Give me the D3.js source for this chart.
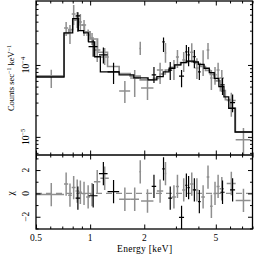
<!DOCTYPE html>
<html><head><meta charset="utf-8">
<script src="https://cdn.jsdelivr.net/npm/d3@7"></script>
<style>body{margin:0;background:#fff}svg{display:block}text{font-family:"Liberation Serif","Times New Roman",serif;fill:#000}</style>
</head><body><svg id="c" width="261" height="265"></svg>
<script>
// ---- data (energy bins in keV, flux in counts s^-1 keV^-1, chi residual) ----
const grayLo  = [0.50,0.716,0.755,0.79,0.83,0.865,0.90,0.95,1.00,1.05,1.14,1.45,1.67,1.88,1.92,2.35,2.60,2.85,3.00,3.25,3.60,3.85,4.15,4.45,4.65,4.85,5.05,5.25,5.75,6.45];
const grayHi  = [0.716,0.755,0.79,0.83,0.865,0.90,0.95,1.00,1.05,1.14,1.27,1.67,1.87,1.92,2.25,2.55,2.65,3.00,3.12,3.38,3.75,4.00,4.35,4.60,4.80,5.05,5.25,5.55,6.45,7.80];
const grayF   = [7.0e-5,3.26e-4,2.97e-4,5.1e-4,4.65e-4,3.96e-4,3.6e-4,2.6e-4,2.37e-4,1.62e-4,1.29e-4,4.35e-5,6.6e-5,1.7e-4,4.8e-5,8.5e-5,1.47e-4,9.1e-5,1.29e-4,1.17e-4,1.5e-4,9.1e-5,1.0e-4,1.62e-4,6.6e-5,7.3e-5,8.5e-5,6.6e-5,3.2e-5,9.1e-6];
const grayFlo = [4.8e-5,2.53e-4,1.96e-4,3.6e-4,3.26e-4,3.06e-4,2.53e-4,2.1e-4,1.9e-4,1.1e-4,1.0e-4,2.96e-5,3.6e-5,1.38e-4,3.27e-5,5.45e-5,1.07e-4,6.2e-5,9.1e-5,8.0e-5,1.07e-4,6.4e-5,7.0e-5,1.2e-4,4.5e-5,5.3e-5,6.2e-5,4.2e-5,1.9e-5,5.0e-6];
const grayFhi = [8.6e-5,3.96e-4,3.6e-4,6.8e-4,5.45e-4,5.1e-4,4.22e-4,3.1e-4,2.78e-4,2.22e-4,1.72e-4,6.0e-5,8.5e-5,2.1e-4,6.6e-5,1.07e-4,2.02e-4,1.17e-4,1.62e-4,1.52e-4,2.0e-4,1.24e-4,1.6e-4,2.02e-4,8.5e-5,9.4e-5,1.07e-4,8.5e-5,4.1e-5,1.33e-5];
const grayChi = [-0.1,0.8,-0.15,0.5,0.2,0.1,0.0,-0.3,-0.1,1.0,1.3,-0.5,-0.5,1.85,-0.65,0.2,1.7,-0.3,0.6,0.3,0.8,0.3,-0.3,1.4,-1.1,0.0,0.6,0.4,0.85,-0.6];

const blackLo  = [0.83,0.98,1.12,1.25,2.20,2.52,2.72,3.12,3.38,3.48,3.72,3.98,5.30,6.00];
const blackHi  = [0.88,1.10,1.25,1.45,2.33,2.60,2.86,3.33,3.48,3.58,3.88,4.12,5.60,6.40];
const blackF   = [4.8e-4,1.8e-4,1.38e-4,8.0e-5,7.3e-5,2.1e-4,8.5e-5,7.0e-5,1.52e-4,1.38e-4,1.3e-4,8.0e-5,5.3e-5,3.0e-5];
const blackFlo = [2.9e-4,1.3e-4,1.05e-4,5.45e-5,5.6e-5,1.52e-4,6.2e-5,4.9e-5,1.07e-4,9.6e-5,9.0e-5,6.2e-5,3.83e-5,2.2e-5];
const blackFhi = [5.4e-4,2.25e-4,1.75e-4,1.07e-4,9.4e-5,2.4e-4,1.1e-4,8.5e-5,1.9e-4,1.78e-4,1.62e-4,1.0e-4,6.6e-5,3.9e-5];
const blackChi = [-0.4,-0.2,1.7,0.15,0.6,2.1,-0.4,-2.05,0.7,0.5,0.3,-0.7,0.1,0.3];

// model step functions
const grayModelEdges = [0.5,0.716,0.76,0.80,0.84,0.88,0.93,1.0,1.10,1.25,1.45,1.67,1.90,2.25,2.45,2.62,2.79,2.98,3.18,3.38,3.6,3.85,4.1,4.38,4.66,4.97,5.3,5.65,6.03,6.43,8.0];
const grayModel      = [7.0e-5,2.75e-4,3.1e-4,4.2e-4,4.4e-4,3.6e-4,2.9e-4,2.3e-4,1.5e-4,9.5e-5,7.6e-5,7.0e-5,6.2e-5,6.5e-5,7.5e-5,8.5e-5,9.3e-5,1.0e-4,1.08e-4,1.12e-4,1.12e-4,1.05e-4,9.5e-5,8.4e-5,7.4e-5,6.0e-5,4.4e-5,3.3e-5,2.5e-5,1.17e-5];
const blackModelEdges = [0.5,0.716,0.80,0.86,0.92,0.98,1.06,1.14,1.45,1.75,2.1,2.35,2.55,2.75,2.95,3.2,3.45,3.75,4.0,4.3,4.6,4.9,5.2,5.55,5.9,6.4,8.0];
const blackModel      = [6.8e-5,2.8e-4,4.4e-4,3.0e-4,2.8e-4,2.1e-4,1.3e-4,8.0e-5,7.3e-5,6.6e-5,6.2e-5,6.9e-5,8.0e-5,9.0e-5,1.0e-4,1.08e-4,1.13e-4,1.1e-4,1.02e-4,9.0e-5,7.8e-5,6.5e-5,5.0e-5,3.6e-5,2.5e-5,1.17e-5];

// ticks
const xMajor = [0.5,1,2,5];
const xMajorLabels = ["0.5","1","2","5"];
const xMinor = [0.6,0.7,0.8,0.9,3,4,6,7,8];
const yMajor = [1e-5,1e-4];
const yMinor = [6e-6,7e-6,8e-6,9e-6,2e-5,3e-5,4e-5,5e-5,6e-5,7e-5,8e-5,9e-5,2e-4,3e-4,4e-4,5e-4,6e-4,7e-4];
const chiMajor = [-2,0,2];
const chiMinor = [-3,-1,1,3];

// ---- layout ----
const L=36, R=252.5, T=1, M=155, B=229;
const GRAY="#8f8f8f";
const svg = d3.select("#c");
const x = d3.scaleLog().domain([0.5,8]).range([L,R]);
const y = d3.scaleLog().domain([5.6e-6,7.75e-4]).range([M,T]);
const yc = d3.scaleLinear().domain([-3.05,3.29]).range([B,M]);

svg.append("clipPath").attr("id","cpTop").append("rect").attr("x",L).attr("y",T).attr("width",R-L).attr("height",M-T);
svg.append("clipPath").attr("id","cpBot").append("rect").attr("x",L).attr("y",M).attr("width",R-L).attr("height",B-M);

const gTop = svg.append("g").attr("clip-path","url(#cpTop)");
const gBot = svg.append("g").attr("clip-path","url(#cpBot)");

// zero line
gBot.append("line").attr("x1",L).attr("x2",R).attr("y1",yc(0)).attr("y2",yc(0))
  .attr("stroke",GRAY).attr("stroke-width",1.4).attr("stroke-dasharray","6,4");

function stepPath(edges, vals){
  const pts = vals.map((v,i)=>[edges[i],v]);
  pts.push([edges[edges.length-1], vals[vals.length-1]]);
  return d3.line().x(d=>x(d[0])).y(d=>y(d[1])).curve(d3.curveStepAfter)(pts);
}

function drawSet(lo,hi,F,Flo,Fhi,chi,color,sw){
  for(let i=0;i<lo.length;i++){
    const xc = x((lo[i]+hi[i])/2);
    gTop.append("line").attr("x1",x(lo[i])).attr("x2",x(hi[i])).attr("y1",y(F[i])).attr("y2",y(F[i])).attr("stroke",color).attr("stroke-width",sw);
    gTop.append("line").attr("x1",xc).attr("x2",xc).attr("y1",y(Flo[i])).attr("y2",y(Fhi[i])).attr("stroke",color).attr("stroke-width",sw);
    gBot.append("line").attr("x1",x(lo[i])).attr("x2",x(hi[i])).attr("y1",yc(chi[i])).attr("y2",yc(chi[i])).attr("stroke",color).attr("stroke-width",sw);
    gBot.append("line").attr("x1",xc).attr("x2",xc).attr("y1",yc(chi[i]-1)).attr("y2",yc(chi[i]+1)).attr("stroke",color).attr("stroke-width",sw);
  }
}

drawSet(grayLo,grayHi,grayF,grayFlo,grayFhi,grayChi,GRAY,1.5);
gTop.append("path").attr("d",stepPath(grayModelEdges,grayModel)).attr("fill","none").attr("stroke",GRAY).attr("stroke-width",1.6);
drawSet(blackLo,blackHi,blackF,blackFlo,blackFhi,blackChi,"#000",1.2);
gTop.append("path").attr("d",stepPath(blackModelEdges,blackModel)).attr("fill","none").attr("stroke","#000").attr("stroke-width",1.3);

// ---- axes (inward ticks) ----
function ax(gen, tx, ty){
  const g = svg.append("g").attr("transform",`translate(${tx},${ty})`).call(gen);
  g.select(".domain").remove();
  g.selectAll("line").attr("stroke","#000").attr("stroke-width",1);
  g.selectAll("text").remove();
  return g;
}
const MJ=4.5, MN=2.5;
ax(d3.axisBottom(x).tickValues(xMajor).tickSize(MJ),0,T);
ax(d3.axisBottom(x).tickValues(xMinor).tickSize(MN),0,T);
ax(d3.axisTop(x).tickValues(xMajor).tickSize(MJ),0,M);
ax(d3.axisTop(x).tickValues(xMinor).tickSize(MN),0,M);
ax(d3.axisBottom(x).tickValues(xMajor).tickSize(MJ),0,M);
ax(d3.axisBottom(x).tickValues(xMinor).tickSize(MN),0,M);
ax(d3.axisTop(x).tickValues(xMajor).tickSize(MJ),0,B);
ax(d3.axisTop(x).tickValues(xMinor).tickSize(MN),0,B);
ax(d3.axisRight(y).tickValues(yMajor).tickSize(MJ),L,0);
ax(d3.axisRight(y).tickValues(yMinor).tickSize(MN),L,0);
ax(d3.axisLeft(y).tickValues(yMajor).tickSize(MJ),R,0);
ax(d3.axisLeft(y).tickValues(yMinor).tickSize(MN),R,0);
ax(d3.axisRight(yc).tickValues(chiMajor).tickSize(MJ),L,0);
ax(d3.axisRight(yc).tickValues(chiMinor).tickSize(MN),L,0);
ax(d3.axisLeft(yc).tickValues(chiMajor).tickSize(MJ),R,0);
ax(d3.axisLeft(yc).tickValues(chiMinor).tickSize(MN),R,0);

// frames
svg.append("rect").attr("x",L).attr("y",T).attr("width",R-L).attr("height",B-T).attr("fill","none").attr("stroke","#000").attr("stroke-width",1.3);
svg.append("line").attr("x1",L).attr("x2",R).attr("y1",M).attr("y2",M).attr("stroke","#000").attr("stroke-width",1.3);

// ---- labels ----
const FS=9.5;
xMajor.forEach((v,i)=>{
  svg.append("text").attr("x",x(v)).attr("y",240.5).attr("text-anchor","middle").attr("font-size",FS).text(xMajorLabels[i]);
});
svg.append("text").attr("x",(L+R)/2+0.5).attr("y",251.5).attr("text-anchor","middle").attr("font-size",FS).attr("letter-spacing",0.3).text("Energy [keV]");

function supLabel(xp, yp, base, sup){
  const t = svg.append("text").attr("transform",`translate(${xp},${yp}) rotate(-90)`).attr("text-anchor","middle").attr("font-size",FS);
  t.append("tspan").text(base);
  t.append("tspan").attr("dy",-4).attr("font-size",6.5).text(sup);
  return t;
}
supLabel(29, y(1e-4), "10", "\u22124");
supLabel(29, y(1e-5), "10", "\u22125");

chiMajor.forEach(v=>{
  svg.append("text").attr("transform",`translate(29,${yc(v)}) rotate(-90)`).attr("text-anchor","middle").attr("font-size",FS)
    .text(v<0?"\u2212"+Math.abs(v):String(v));
});

const yl = svg.append("text").attr("transform",`translate(14,${(T+M)/2}) rotate(-90)`).attr("text-anchor","middle").attr("font-size",8.5);
yl.append("tspan").text("Counts sec");
yl.append("tspan").attr("dy",-3.5).attr("font-size",6).text("\u22121");
yl.append("tspan").attr("dy",3.5).text(" keV");
yl.append("tspan").attr("dy",-3.5).attr("font-size",6).text("\u22121");

svg.append("text").attr("transform",`translate(14,${yc(0)}) rotate(-90)`).attr("text-anchor","middle").attr("font-size",FS).text("\u03c7");
</script>
</body></html>
